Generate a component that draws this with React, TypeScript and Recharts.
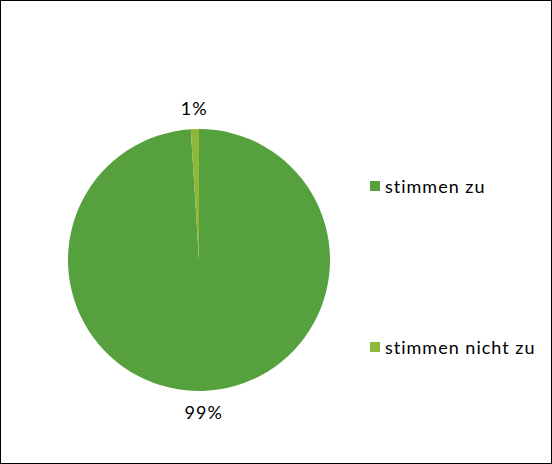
import { Cell, Legend, Pie, PieChart } from 'recharts'

const categories = ['stimmen zu', 'stimmen nicht zu']
const shares = [99, 1]
const colors = ['#56A03D', '#8DB83A']

const data = categories.map((name, i) => ({ name, value: shares[i] }))

const FONT = 'Lato, "Open Sans", sans-serif'
const RADIAN = Math.PI / 180

function renderLabel({ cx, cy, midAngle, outerRadius, value }: any) {
  const r = outerRadius + 21
  const x = cx + r * Math.cos(-midAngle * RADIAN)
  const y = cy + r * Math.sin(-midAngle * RADIAN)
  return (
    <text
      x={x}
      y={y}
      textAnchor="middle"
      dominantBaseline="central"
      fill="#000"
      fontSize={18}
      letterSpacing={1}
      fontFamily={FONT}
    >
      {`${value}%`}
    </text>
  )
}

function CustomLegend() {
  const tops = [175, 336]
  return (
    <div style={{ position: 'relative', width: 180, height: 464 }}>
      {data.map((entry, i) => (
        <div
          key={entry.name}
          style={{
            position: 'absolute',
            left: 0,
            top: tops[i],
            display: 'flex',
            alignItems: 'center',
            fontFamily: FONT,
            fontSize: 18,
            letterSpacing: 1,
            color: '#000',
            whiteSpace: 'nowrap',
          }}
        >
          <div
            style={{
              width: 10,
              height: 10,
              background: colors[i],
              marginRight: 5,
            }}
          />
          {entry.name}
        </div>
      ))}
    </div>
  )
}

export default function App() {
  return (
    <div
      style={{
        position: 'absolute',
        left: 0,
        top: 0,
        width: 552,
        height: 464,
        boxSizing: 'border-box',
        border: '1px solid #000',
        background: '#fff',
      }}
    >
      <div style={{ position: 'absolute', left: -1, top: -1 }}>
        <PieChart
          width={552}
          height={464}
          margin={{ top: 0, right: 0, bottom: 0, left: 0 }}
        >
          <Pie
            data={data}
            dataKey="value"
            nameKey="name"
            cx={199}
            cy={260}
            outerRadius={131}
            startAngle={90}
            endAngle={-270}
            stroke="none"
            label={renderLabel}
            labelLine={false}
            isAnimationActive={false}
          >
            {data.map((entry, i) => (
              <Cell key={entry.name} fill={colors[i]} />
            ))}
          </Pie>
          <Legend
            content={<CustomLegend />}
            wrapperStyle={{ position: 'absolute', left: 370, top: 0, width: 180 }}
          />
        </PieChart>
      </div>
    </div>
  )
}
